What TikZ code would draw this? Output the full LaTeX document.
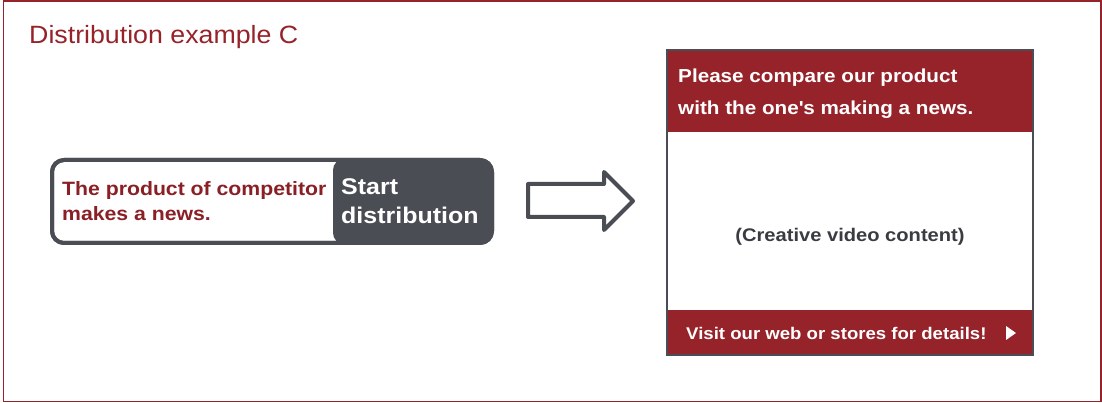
\documentclass[tikz,border=0pt]{standalone}
\usepackage{fontspec}
\setmainfont{Liberation Sans}
\newfontfamily\wide[FakeStretch=1.1]{Liberation Sans}
\newfontfamily\titlefont[FakeStretch=1.07]{Liberation Sans}
\definecolor{brand}{HTML}{962329}
\definecolor{darkred}{HTML}{8A1F25}
\definecolor{slate}{HTML}{4A4D53}
\definecolor{ink}{HTML}{3A3C42}
\tikzset{
  frame/.style={draw=brand, line width=1.6pt},
  pillline/.style={font=\wide\bfseries\fontsize{19.3}{25}\selectfont, text=darkred, align=left, anchor=west, inner sep=0pt},
  startline/.style={font=\wide\bfseries\fontsize{22.7}{28.5}\selectfont, text=white, align=left, anchor=west, inner sep=0pt},
  hdr/.style={font=\wide\bfseries\fontsize{18.8}{32}\selectfont, text=white, align=left, anchor=west, inner sep=0pt},
}
\begin{document}
\begin{tikzpicture}[x=1pt,y=-1pt]
\useasboundingbox (0,0) rectangle (1102,403);
\fill[white] (0,0) rectangle (1102,403);
% outer frame
\draw[frame] (3.5,1) rectangle (1101,401.5);
\node[anchor=base west, inner sep=0pt, text=brand, font=\titlefont\fontsize{25}{30}\selectfont] (title) at (29,44) {Distribution example C};

% pill
\draw[slate, line width=4pt, fill=white, rounded corners=12pt] (52,160) rectangle (492,243);
\fill[slate, rounded corners=11pt] (333,159) rectangle (493,244);
\draw[slate, line width=4pt, rounded corners=12pt] (52,160) rectangle (492,243);
\node[pillline] (comp) at (62,201.5) {The product of competitor\\makes a news.};
\node[startline] (start) at (341,201) {Start\\distribution};

% arrow
\draw[slate, line width=4pt, line join=round, fill=white]
  (528,184) -- (604,184) -- (604,172) -- (633,201) -- (604,230) -- (604,217) -- (528,217) -- cycle;

% right panel
\draw[slate, line width=2pt, fill=white] (667,50) rectangle (1033,355);
\fill[brand] (668,51) rectangle (1032,132);
\fill[brand] (668,310) rectangle (1032,354);
\node[hdr] (head) at (678,93.5) {Please compare our product\\with the one\textquotesingle s making a news.};
\node[inner sep=0pt, text=ink, font=\wide\bfseries\fontsize{18.3}{20}\selectfont] (video) at (850,237) {(Creative video content)};
\node[anchor=west, inner sep=0pt, text=white, font=\wide\bfseries\fontsize{16.9}{20}\selectfont] (foot) at (686,333) {Visit our web or stores for details!};
\fill[white] (1006,326) -- (1016,333) -- (1006,340) -- cycle;
\end{tikzpicture}
\end{document}
